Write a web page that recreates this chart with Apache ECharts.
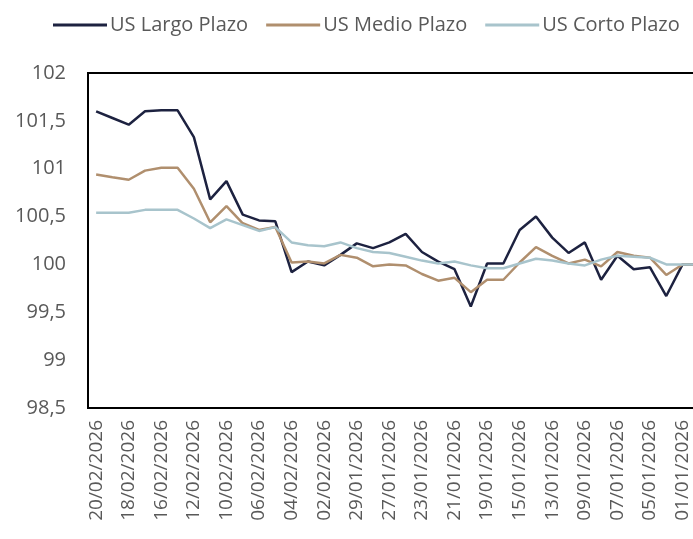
<!DOCTYPE html>
<html>
<head>
<meta charset="utf-8">
<script src="https://cdn.jsdelivr.net/npm/echarts@6/dist/echarts.min.js"></script>
<style>
  html, body { margin: 0; padding: 0; background: #fff; }
  #chart { width: 693px; height: 539px; }
</style>
</head>
<body>
<div id="chart"></div>
<script>
var fechas = ['20/02/2026', '19/02/2026', '18/02/2026', '17/02/2026', '16/02/2026', '13/02/2026',
    '12/02/2026', '11/02/2026', '10/02/2026', '09/02/2026', '06/02/2026', '05/02/2026',
    '04/02/2026', '03/02/2026', '02/02/2026', '30/01/2026', '29/01/2026', '28/01/2026',
    '27/01/2026', '26/01/2026', '23/01/2026', '22/01/2026', '21/01/2026', '20/01/2026',
    '19/01/2026', '16/01/2026', '15/01/2026', '14/01/2026', '13/01/2026', '12/01/2026',
    '09/01/2026', '08/01/2026', '07/01/2026', '06/01/2026', '05/01/2026', '02/01/2026',
    '01/01/2026', '31/12/2025'];

var largoPlazo = [101.60, 101.53, 101.46, 101.60, 101.61, 101.61, 101.33, 100.68, 100.87, 100.52,
    100.46, 100.45, 99.92, 100.03, 99.99, 100.10, 100.22, 100.17, 100.23, 100.32,
    100.13, 100.03, 99.95, 99.56, 100.01, 100.01, 100.36, 100.50, 100.28, 100.12,
    100.23, 99.84, 100.09, 99.95, 99.97, 99.67, 100.00, 100.00];

var medioPlazo = [100.94, 100.91, 100.885, 100.98, 101.01, 101.01, 100.79, 100.44, 100.61, 100.43,
    100.36, 100.39, 100.02, 100.03, 100.01, 100.10, 100.07, 99.98, 100.00, 99.99,
    99.90, 99.83, 99.86, 99.71, 99.84, 99.84, 100.02, 100.18, 100.09, 100.01,
    100.05, 99.98, 100.13, 100.09, 100.07, 99.89, 100.00, 100.00];

var cortoPlazo = [100.54, 100.54, 100.54, 100.57, 100.57, 100.57, 100.48, 100.38, 100.47, 100.41,
    100.35, 100.39, 100.23, 100.20, 100.19, 100.23, 100.17, 100.13, 100.12, 100.08,
    100.04, 100.01, 100.03, 99.99, 99.96, 99.96, 100.01, 100.06, 100.04, 100.01,
    99.99, 100.05, 100.09, 100.08, 100.07, 100.00, 100.00, 100.00];

var chart = echarts.init(document.getElementById('chart'));
var fuente = 'Open Sans';
var gris = '#595959';

var option = {
    animation: false,
    backgroundColor: '#fff',
    legend: {
        left: 48,
        top: 10,
        itemWidth: 54,
        itemHeight: 3,
        itemGap: 18,
        icon: 'rect',
        textStyle: { fontFamily: fuente, fontSize: 20, color: gris, padding: [0, 0, 0, -2] },
        data: ['US Largo Plazo', 'US Medio Plazo', 'US Corto Plazo']
    },
    grid: {
        left: 88,
        top: 73,
        width: 619,
        height: 335,
        outerBoundsMode: 'none',
        show: true,
        borderColor: '#000',
        borderWidth: 2
    },
    xAxis: {
        type: 'category',
        data: fechas,
        boundaryGap: true,
        axisLine: { show: false },
        axisTick: { show: false },
        axisLabel: {
            interval: 1,
            rotate: 90,
            margin: 12,
            fontFamily: fuente,
            fontSize: 19,
            color: gris
        }
    },
    yAxis: {
        type: 'value',
        min: 98.5,
        max: 102,
        interval: 0.5,
        splitLine: { show: false },
        axisLine: { show: false },
        axisTick: { show: false },
        axisLabel: {
            margin: 22,
            fontFamily: fuente,
            fontSize: 20,
            color: gris,
            formatter: function (v) {
                return String(Math.round(v * 10) / 10).replace('.', ',');
            }
        }
    },
    series: [
        {
            name: 'US Largo Plazo',
            type: 'line',
            data: largoPlazo,
            symbol: 'none',
            color: '#1d2240',
            lineStyle: { width: 2.5, color: '#1d2240' }
        },
        {
            name: 'US Medio Plazo',
            type: 'line',
            data: medioPlazo,
            symbol: 'none',
            color: '#b08f6e',
            lineStyle: { width: 2.5, color: '#b08f6e' }
        },
        {
            name: 'US Corto Plazo',
            type: 'line',
            data: cortoPlazo,
            symbol: 'none',
            color: '#a8c4cc',
            lineStyle: { width: 2.5, color: '#a8c4cc' }
        }
    ]
};
chart.setOption(option);
</script>
</body>
</html>
